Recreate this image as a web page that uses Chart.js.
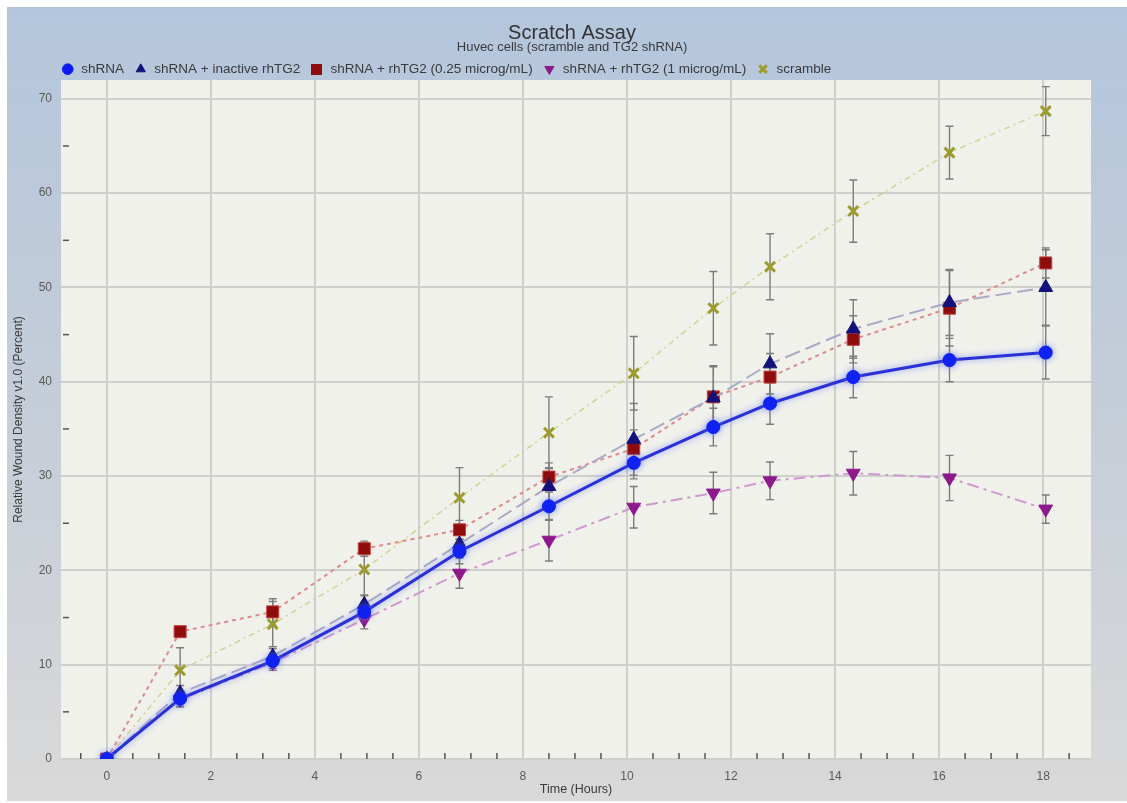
<!DOCTYPE html>
<html>
<head>
<meta charset="utf-8">
<title>Scratch Assay</title>
<script src="https://cdn.jsdelivr.net/npm/chart.js@4.4.1/dist/chart.umd.min.js"></script>
<style>
  html, body { margin: 0; padding: 0; background: #fff; }
  #wrap { width: 1127px; height: 803px; }
</style>
</head>
<body>
<div id="wrap"><canvas id="scratchChart" width="1127" height="803"></canvas></div>
<script>
// ===================== DATA =====================
const hours = [0, 1.41, 3.19, 4.95, 6.78, 8.5, 10.13, 11.66, 12.75, 14.35, 16.2, 18.05];

const shRNA        = [0, 6.4, 10.4, 15.6, 22.0, 26.8, 31.4, 35.2, 37.7, 40.5, 42.3, 43.1];
const shRNAErr     = [0, 0.8, 0.8, 1.0, 1.3, 1.5, 1.7, 2.0, 2.2, 2.2, 2.3, 2.8];

const inactive     = [0, 7.0, 10.9, 16.4, 22.8, 28.9, 33.9, 38.3, 41.9, 45.6, 48.4, 50.0];
const inactiveErr  = [0, 0.8, 0.8, 1.0, 1.5, 2.0, 3.8, 3.3, 3.2, 3.1, 3.5, 4.0];

const low          = [0, 13.5, 15.6, 22.3, 24.3, 29.9, 32.9, 38.4, 40.5, 44.5, 47.8, 52.6];
const lowErr       = [0, 0.5, 1.4, 0.8, 1.0, 1.5, 2.0, 3.3, 2.5, 2.5, 4.0, 1.6];

const high         = [0, 6.3, 10.2, 14.8, 19.7, 23.2, 26.7, 28.2, 29.5, 30.3, 29.8, 26.5];
const highErr      = [0, 0.8, 0.8, 1.0, 1.6, 2.2, 2.2, 2.2, 2.0, 2.3, 2.4, 1.5];

const scramble     = [0, 9.4, 14.3, 20.1, 27.7, 34.6, 40.9, 47.8, 52.2, 58.1, 64.3, 68.7];
const scrambleErr  = [0, 2.4, 2.4, 2.8, 3.2, 3.8, 3.9, 3.9, 3.5, 3.3, 2.8, 2.6];

const xTicks = [0, 2, 4, 6, 8, 10, 12, 14, 16, 18];
const yTicks = [0, 10, 20, 30, 40, 50, 60, 70];
const xMinorTicks = [-0.5, 0.5, 1, 1.5, 2.5, 3, 3.5, 4.5, 5, 5.5, 6.5, 7, 7.5, 8.5, 9, 9.5,
  10.5, 11, 11.5, 12.5, 13, 13.5, 14.5, 15, 15.5, 16.5, 17, 17.5, 18.5];
const yMinorTicks = [5, 15, 25, 35, 45, 55, 65];

const toPoints = arr => arr.map((v, i) => ({ x: hours[i], y: v }));
const FONT = "'Liberation Sans', Arial, sans-serif";
Chart.defaults.font.family = FONT;

// bigger square for the legend (the built-in rect comes out too small there)
const legendSquare = document.createElement("canvas");
legendSquare.width = 11;
legendSquare.height = 11;
(() => {
  const c = legendSquare.getContext("2d");
  c.fillStyle = "#8e0c0c";
  c.fillRect(0, 0, 11, 11);
})();

// ===================== PLUGINS =====================
// background: white rim, blue-to-grey panel, off-white plot area
const backdrop = {
  id: "backdrop",
  beforeDraw(chart) {
    const { ctx, width, height, chartArea: a } = chart;
    ctx.save();
    ctx.fillStyle = "#ffffff";
    ctx.fillRect(0, 0, width, height);
    const g = ctx.createLinearGradient(0, 7, 0, height);
    g.addColorStop(0, "#b4c6dd");
    g.addColorStop(0.5, "#c5cdd8");
    g.addColorStop(1, "#d9d9d9");
    ctx.fillStyle = g;
    ctx.fillRect(7, 7, width - 7, height - 9);
    ctx.fillStyle = "#f1f1eb";
    ctx.fillRect(a.left, a.top, a.right - a.left, a.bottom - a.top);
    ctx.restore();
  }
};

// error bars + small minor ticks inside the plot
const errorBars = {
  id: "errorBars",
  beforeDatasetsDraw(chart) {
    const { ctx, scales: { x, y }, chartArea: a } = chart;
    ctx.save();
    ctx.strokeStyle = "#555";
    ctx.lineWidth = 1.5;
    xMinorTicks.forEach(v => {
      const px = x.getPixelForValue(v);
      ctx.beginPath();
      ctx.moveTo(px, a.bottom);
      ctx.lineTo(px, a.bottom - 6);
      ctx.stroke();
    });
    yMinorTicks.forEach(v => {
      const py = y.getPixelForValue(v);
      ctx.beginPath();
      ctx.moveTo(a.left + 2, py);
      ctx.lineTo(a.left + 8, py);
      ctx.stroke();
    });

    ctx.strokeStyle = "#7c7c7c";
    ctx.lineWidth = 1.4;
    chart.data.datasets.forEach(ds => {
      ds.errors.forEach((e, i) => {
        if (!e) return;
        const px = x.getPixelForValue(hours[i]);
        const top = y.getPixelForValue(ds.data[i].y + e);
        const bot = y.getPixelForValue(ds.data[i].y - e);
        ctx.beginPath();
        ctx.moveTo(px, top); ctx.lineTo(px, bot);
        ctx.moveTo(px - 4, top); ctx.lineTo(px + 4, top);
        ctx.moveTo(px - 4, bot); ctx.lineTo(px + 4, bot);
        ctx.stroke();
      });
    });
    ctx.restore();
  }
};

// soft glow on the shRNA line
const glow = {
  id: "glow",
  beforeDatasetDraw(chart, args) {
    if (args.index !== 0) return;
    chart.ctx.save();
    chart.ctx.shadowColor = "rgba(90,120,255,0.7)";
    chart.ctx.shadowBlur = 6;
  },
  afterDatasetDraw(chart, args) {
    if (args.index === 0) chart.ctx.restore();
  }
};

// push the legend row to start above the plot's left edge
const legendShift = {
  id: "legendShift",
  afterLayout(chart) {
    chart.legend.left += 34;
    chart.legend.right += 34;
  }
};

// ===================== CHART =====================
const clipBottom = { left: 14, top: 14, right: 14, bottom: 0 };

new Chart(document.getElementById("scratchChart"), {
  type: "scatter",
  data: {
    datasets: [
      {
        label: "shRNA",
        data: toPoints(shRNA),
        errors: shRNAErr,
        showLine: true,
        borderColor: "#2b2fd6",
        backgroundColor: "#0b1cf2",
        borderWidth: 3,
        pointStyle: "circle",
        pointRadius: 6.5,
        pointBackgroundColor: "#0b1cf2",
        pointBorderColor: "#0b1cf2",
        pointBorderWidth: 1,
        clip: clipBottom
      },
      {
        label: "shRNA + inactive rhTG2",
        data: toPoints(inactive),
        errors: inactiveErr,
        showLine: true,
        borderColor: "#aaaac6",
        backgroundColor: "#12127a",
        borderWidth: 2,
        borderDash: [16, 6],
        pointStyle: "triangle",
        pointRadius: 8,
        pointBackgroundColor: "#12127a",
        pointBorderColor: "#12127a",
        pointBorderWidth: 1,
        clip: clipBottom
      },
      {
        label: "shRNA + rhTG2 (0.25 microg/mL)",
        data: toPoints(low),
        errors: lowErr,
        showLine: true,
        borderColor: "#dc8c8c",
        backgroundColor: "#8e0c0c",
        borderWidth: 2,
        borderDash: [4, 4],
        pointStyle: "rect",
        pointRadius: 8.5,
        pointBackgroundColor: "#8e0c0c",
        pointBorderColor: "#c04040",
        pointBorderWidth: 1,
        clip: clipBottom
      },
      {
        label: "shRNA + rhTG2 (1 microg/mL)",
        data: toPoints(high),
        errors: highErr,
        showLine: true,
        borderColor: "#cf98cf",
        backgroundColor: "#8c1a8c",
        borderWidth: 2,
        borderDash: [12, 5, 3, 5],
        pointStyle: "triangle",
        rotation: 180,
        pointRotation: 180,
        pointRadius: 8,
        pointBackgroundColor: "#8c1a8c",
        pointBorderColor: "#8c1a8c",
        pointBorderWidth: 1,
        clip: clipBottom
      },
      {
        label: "scramble",
        data: toPoints(scramble),
        errors: scrambleErr,
        showLine: true,
        borderColor: "#d2d296",
        backgroundColor: "#9c9c2c",
        borderWidth: 1.5,
        borderDash: [6, 4, 2, 4],
        pointStyle: "crossRot",
        pointRadius: 7,
        pointBackgroundColor: "#9c9c2c",
        pointBorderColor: "#9c9c2c",
        pointBorderWidth: 3,
        clip: clipBottom
      }
    ]
  },
  options: {
    responsive: false,
    animation: false,
    layout: { padding: { left: 17, right: 0, top: 0, bottom: 0 } },
    plugins: {
      title: {
        display: true,
        text: "Scratch Assay",
        color: "#333",
        font: { size: 20, weight: "normal", lineHeight: 0.9 },
        padding: { top: 24, bottom: 0 }
      },
      subtitle: {
        display: true,
        text: "Huvec cells (scramble and TG2 shRNA)",
        color: "#3a3a3a",
        font: { size: 13, lineHeight: 0.8 },
        padding: { top: 0, bottom: 0 }
      },
      legend: {
        position: "top",
        align: "start",
        maxHeight: 27.6,
        labels: {
          usePointStyle: true,
          boxHeight: 7.5,
          boxWidth: 17,
          padding: 10,
          color: "#3a3a3a",
          font: { size: 13.5 },
          generateLabels(chart) {
            const items = Chart.defaults.plugins.legend.labels.generateLabels(chart);
            items[2].pointStyle = legendSquare;
            return items;
          }
        }
      },
      tooltip: { enabled: false }
    },
    scales: {
      x: {
        type: "linear",
        min: -0.88,
        max: 18.92,
        afterBuildTicks: s => { s.ticks = xTicks.map(v => ({ value: v })); },
        afterFit: s => { s.height = 44; },
        grid: { color: "#cfcfcb", lineWidth: 2, drawTicks: false },
        border: { display: false },
        ticks: { color: "#5a5a5a", font: { size: 12 }, padding: 10 },
        title: {
          display: true,
          text: "Time (Hours)",
          color: "#3a3a3a",
          font: { size: 12.5 },
          padding: { top: 0, bottom: 6 }
        }
      },
      y: {
        type: "linear",
        min: 0,
        max: 72,
        afterBuildTicks: s => { s.ticks = yTicks.map(v => ({ value: v })); },
        afterFit: s => { s.width = 44; },
        grid: { color: "#cfcfcb", lineWidth: 2, drawTicks: false },
        border: { display: false },
        ticks: { color: "#5a5a5a", font: { size: 12 }, padding: 9 },
        title: {
          display: true,
          text: "Relative Wound Density v1.0 (Percent)",
          color: "#3a3a3a",
          font: { size: 12 },
          padding: { top: -6, bottom: 0 }
        }
      },
      // empty strip on the right of the plot
      yRight: {
        type: "linear",
        position: "right",
        afterFit: s => { s.width = 36; },
        grid: { display: false },
        border: { display: false },
        ticks: { display: false }
      }
    }
  },
  plugins: [backdrop, errorBars, glow, legendShift]
});
</script>
</body>
</html>
